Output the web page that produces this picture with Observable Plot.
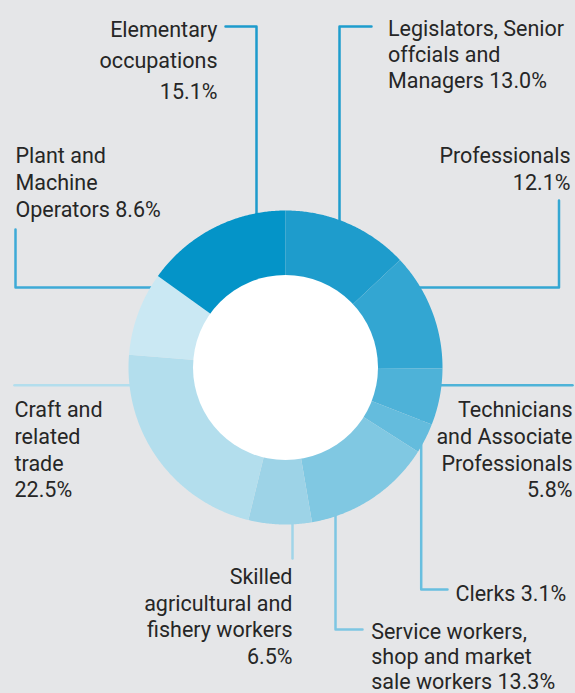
<!DOCTYPE html>
<html>
<head>
<meta charset="utf-8">
<script src="https://cdn.jsdelivr.net/npm/d3@7"></script>
<script src="https://cdn.jsdelivr.net/npm/@observablehq/plot@0.6"></script>
<style>
  html, body { margin: 0; padding: 0; background: #e5e6e8; }
  svg { display: block; }
</style>
</head>
<body>
<div id="chart"></div>
<script>
// ---- data ----
const categories = [
  "Legislators, Senior offcials and Managers",
  "Professionals",
  "Technicians and Associate Professionals",
  "Clerks",
  "Service workers, shop and market sale workers",
  "Skilled agricultural and fishery workers",
  "Craft and related trade",
  "Plant and Machine Operators",
  "Elementary occupations"
];
const shares = [13.0, 12.1, 5.8, 3.1, 13.3, 6.5, 22.5, 8.6, 15.1];
// label text lines ("%" is replaced by the share)
const labelLines = [
  ["Legislators, Senior", "offcials and", "Managers %"],
  ["Professionals", "%"],
  ["Technicians", "and Associate", "Professionals", "%"],
  ["Clerks %"],
  ["Service workers,", "shop and market", "sale workers %"],
  ["Skilled", "agricultural and", "fishery workers", "%"],
  ["Craft and", "related", "trade", "%"],
  ["Plant and", "Machine", "Operators %"],
  ["Elementary", "occupations", "%"]
];

// ---- styles ----
const sliceColors = ["#1e9ccc", "#33a6d2", "#4eb2d8", "#64bcdd", "#80c8e2", "#9dd3e7", "#b3deed", "#cae8f3", "#0494c8"];
const lineColors  = ["#1e9dcd", "#34a7d2", "#4eb3d8", "#68bfdf", "#7ec6e2", "#a0d5e9", "#b3deed", "#3eaad6", "#1d9bcc"];

// ---- layout (pixels) ----
const W = 575, H = 693;
const cx = 285, cy = 367, R = 157, r0 = 92;
// label anchor: x, first baseline y, line height, text anchor
const labelLayout = [
  {x: 387.5, y: 35.5, lh: 26, anchor: "start"},
  {x: 570, y: 162.5, lh: 26.7, anchor: "end"},
  {x: 572, y: 416.7, lh: 26.7, anchor: "end"},
  {x: 455, y: 600, lh: 26, anchor: "start"},
  {x: 370.7, y: 638, lh: 25.3, anchor: "start"},
  {x: 292, y: 583.3, lh: 26.7, anchor: "end"},
  {x: 14, y: 416.7, lh: 26.7, anchor: "start"},
  {x: 15, y: 162.7, lh: 27, anchor: "start"},
  {x: 217, y: 36, lh: 31.3, anchor: "end"}
];
// leader lines: start on the ring along a vertical (x) or horizontal (y) line, then follow pts
const leaderLayout = [
  {vx: 339, dir: -1, pts: [[339, 26], [371, 26]]},
  {hy: 287, dir: 1, pts: [[558.5, 287], [558.5, 200]]},
  {hy: 384.7, dir: 1, pts: [[572, 384.7]]},
  {vx: 420.7, dir: 1, pts: [[420.7, 589], [447, 589]]},
  {vx: 335, dir: 1, pts: [[335, 629], [362, 629]]},
  {vx: 292, dir: 1, pts: [[292, 558]]},
  {hy: 384.7, dir: -1, pts: [[14, 384.7]]},
  {hy: 287, dir: -1, pts: [[15, 287], [15, 229]]},
  {vx: 256, dir: -1, pts: [[256, 26], [225, 26]]}
];

// ---- build mark data ----
const data = categories.map((c, i) => ({category: c, share: shares[i], i}));
const arcs = d3.pie().sort(null).value(d => d.share)(data);
const slicePts = [];
for (const a of arcs) {
  const n = Math.max(2, Math.ceil((a.endAngle - a.startAngle) / (Math.PI / 360)));
  const color = sliceColors[a.data.i];
  for (let k = 0; k <= n; k++) {
    const t = a.startAngle + (a.endAngle - a.startAngle) * k / n;
    slicePts.push({category: a.data.category, color, x: cx + R * Math.sin(t), y: cy - R * Math.cos(t)});
  }
  for (let k = n; k >= 0; k--) {
    const t = a.startAngle + (a.endAngle - a.startAngle) * k / n;
    slicePts.push({category: a.data.category, color, x: cx + (r0 - 1) * Math.sin(t), y: cy - (r0 - 1) * Math.cos(t)});
  }
}

const Rm = R - 12;
const leaderPts = [];
leaderLayout.forEach((L, i) => {
  let start;
  if (L.vx !== undefined) start = [L.vx, cy + L.dir * Math.sqrt(Rm * Rm - (L.vx - cx) ** 2)];
  else start = [cx + L.dir * Math.sqrt(Rm * Rm - (L.hy - cy) ** 2), L.hy];
  [start, ...L.pts].forEach(p => leaderPts.push({category: categories[i], color: lineColors[i], x: p[0], y: p[1]}));
});

const textRows = [];
labelLines.forEach((lines, i) => {
  const L = labelLayout[i];
  const pct = shares[i].toFixed(1) + "%";
  lines.forEach((s, j) => textRows.push({
    text: s.replace("%", pct), x: L.x, y: L.y + j * L.lh, anchor: L.anchor
  }));
});

const textOpts = {
  x: "x", y: "y", text: "text", lineAnchor: "bottom",
  fontSize: 21.5, fontFamily: "Roboto", fill: "#262626"
};

const chart = Plot.plot({
  width: W, height: H,
  margin: 0,
  x: {domain: [0, W], range: [0, W], axis: null},
  y: {domain: [0, H], range: [0, H], axis: null},
  color: {type: "identity"},
  style: {background: "#e5e6e8", fontFamily: "Roboto"},
  marks: [
    Plot.line(leaderPts, {x: "x", y: "y", z: "category", stroke: "color", strokeWidth: 2.5, curve: "linear"}),
    Plot.line(slicePts, {x: "x", y: "y", z: "category", fill: "color", stroke: "none", curve: "linear"}),
    Plot.dot([{x: cx, y: cy}], {x: "x", y: "y", r: r0 + 0.5, fill: "white", stroke: "none"}),
    Plot.text(textRows.filter(d => d.anchor === "start"), {...textOpts, textAnchor: "start"}),
    Plot.text(textRows.filter(d => d.anchor === "end"), {...textOpts, textAnchor: "end"})
  ]
});
document.getElementById("chart").appendChild(chart);
</script>
</body>
</html>
